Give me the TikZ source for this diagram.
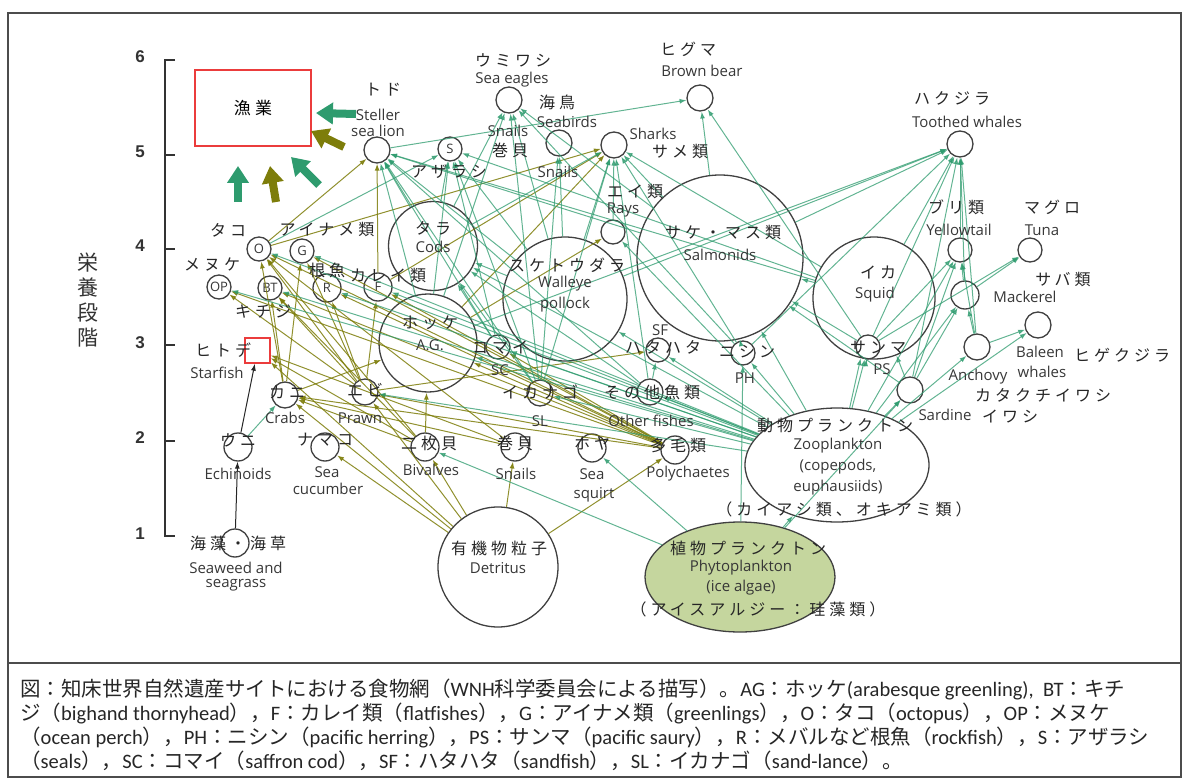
\documentclass[tikz,border=0pt]{standalone}
\usepackage{fontspec}
\setmainfont{Open Sans}
\newfontfamily\jpfont[LetterSpace=25]{Noto Sans CJK JP}
\newfontfamily\capfont{Noto Sans CJK JP}
\newfontfamily\carfont{Carlito}
\newfontfamily\numfont{Liberation Sans}
\usetikzlibrary{arrows,arrows.meta,shapes}

\definecolor{webgreen}{RGB}{46,155,110}
\definecolor{webolive}{RGB}{125,125,10}
\definecolor{rimgray}{RGB}{64,64,64}
\definecolor{boxred}{RGB}{235,60,60}
\definecolor{phyfill}{RGB}{197,214,158}
\definecolor{labgray}{RGB}{55,55,55}
\newcommand{\eng}[1]{{\carfont #1}}

\begin{document}
\begin{tikzpicture}[x=1pt,y=-1pt,
  spc/.style={circle,draw=rimgray,line width=1.3pt,minimum size=26pt,inner sep=0pt,
    font=\fontsize{13}{13}\selectfont,text=labgray},
  jp/.style={font=\jpfont\fontsize{16}{18}\selectfont,text=black!85,inner sep=0pt},
  en/.style={font=\fontsize{15}{16}\selectfont,text=labgray,inner sep=0pt},
  capline/.style={anchor=west,inner sep=0pt,font=\capfont\fontsize{20.5}{24}\selectfont,text=black!85},
  gedge/.style={draw=webgreen,line width=1pt,opacity=.75,-{Latex[length=7pt,width=5pt]}},
  oedge/.style={draw=webolive,line width=1pt,opacity=.85,-{Latex[length=7pt,width=5pt]}},
  kedge/.style={draw=black!85,line width=1pt,-{Latex[length=7pt,width=5pt]}},
  bigarrow/.style={line width=8pt,-{Triangle[length=17pt,width=21pt]}}]

\useasboundingbox (0,0) rectangle (1184,781);

% frame and caption rule
\draw[black!70,line width=1.5pt] (8,13) rectangle (1181,777);
\draw[black!70,line width=1.5pt] (8,663) -- (1181,663);

% trophic level axis
\draw[black!80,line width=1.3pt] (175,60) -- (165,60) -- (165,536) -- (175,536);
\draw[black!80,line width=1.3pt] (165,155) -- (175,155);
\draw[black!80,line width=1.3pt] (165,249) -- (175,249);
\draw[black!80,line width=1.3pt] (165,345) -- (175,345);
\draw[black!80,line width=1.3pt] (165,441) -- (175,441);
\node[font=\numfont\bfseries\fontsize{17}{17}\selectfont,text=black!80] (lv6) at (140,57) {6};
\node[font=\numfont\bfseries\fontsize{17}{17}\selectfont,text=black!80] (lv5) at (140,152) {5};
\node[font=\numfont\bfseries\fontsize{17}{17}\selectfont,text=black!80] (lv4) at (140,246) {4};
\node[font=\numfont\bfseries\fontsize{17}{17}\selectfont,text=black!80] (lv3) at (140,343) {3};
\node[font=\numfont\bfseries\fontsize{17}{17}\selectfont,text=black!80] (lv2) at (140,438) {2};
\node[font=\numfont\bfseries\fontsize{17}{17}\selectfont,text=black!80] (lv1) at (140,534) {1};
\node[font=\capfont\fontsize{21}{25}\selectfont,align=center,text=black!80] (ylab) at (88,300) {栄\\養\\段\\階};

% fisheries and starfish boxes
\node[draw=boxred,line width=1.4pt,minimum width=116pt,minimum height=76pt,inner sep=0pt,
  font=\jpfont\fontsize{17}{18}\selectfont] (fish) at (253,108) {漁業};
\node[draw=boxred,line width=1.4pt,minimum size=25pt,inner sep=0pt] (sfish) at (257.5,350.5) {};

% top predators
\node[spc] (tsl) at (377,150) {};
\node[spc] (se) at (509,100) {};
\node[spc] (sb) at (559,143) {};
\node[spc,minimum size=24pt] (seal) at (450,149) {S};
\node[spc] (sh) at (614,145) {};
\node[spc] (bb) at (700,98) {};
\node[spc] (tw) at (960,144) {};
\node[spc,minimum size=24pt] (ys) at (960,250) {};
\node[spc,minimum size=24pt] (tu) at (1030,250) {};
\node[spc,minimum size=28pt] (mk) at (965,295) {};
\node[spc] (bw) at (1038,325) {};
\node[spc] (an) at (977,347) {};
\node[spc] (sd) at (910,390) {};
\node[spc,minimum size=24pt] (ps) at (868,347) {};

% big fish circles
\node[spc,minimum size=122pt] (sq) at (874,298) {};
\node[spc,minimum size=166pt] (sal) at (720,258) {};
\node[spc,minimum size=124pt] (wp) at (565,299) {};
\node[spc,minimum size=89pt] (cod) at (433,246) {};
\node[spc,minimum size=98pt] (ag) at (428,343) {};
\node[spc,minimum size=24pt] (ray) at (613,232) {};

% demersal fish
\node[spc,minimum size=24pt] (oct) at (259,249) {O};
\node[spc,minimum size=24pt] (grn) at (302,251) {G};
\node[spc,minimum size=24pt] (op) at (219,287) {OP};
\node[spc,minimum size=24pt] (bt) at (270,288) {BT};
\node[spc,minimum size=28pt] (rf) at (327,288) {\raisebox{-6pt}{R}};
\node[spc,minimum size=28pt] (ff) at (378,287) {\raisebox{-6pt}{F}};
\node[spc,minimum size=24pt] (sc) at (498,347) {};
\node[spc] (sl) at (540,393) {};
\node[spc,minimum size=24pt] (sf) at (658,350) {};
\node[spc] (of) at (650,392) {};
\node[spc,minimum size=24pt] (ph) at (743,353) {};

% benthos
\node[spc] (crab) at (285,395) {};
\node[spc] (prawn) at (365,392) {};
\node[spc,minimum size=28pt] (echi) at (238,447) {};
\node[spc,minimum size=28pt] (cuc) at (325,447) {};
\node[spc,minimum size=28pt] (weed) at (235,543) {};
\node[spc,minimum size=28pt] (biv) at (425,447) {};
\node[spc,minimum size=28pt] (snail) at (515,447) {};
\node[spc,minimum size=28pt] (squirt) at (592,448) {};
\node[spc,minimum size=28pt] (poly) at (675,450) {};

% base of the web
\node[spc,minimum size=120pt] (det) at (498,567) {};
\node[ellipse,draw=rimgray,fill=phyfill,line width=1.3pt,minimum width=190pt,minimum height=110pt] (phy) at (740,577) {};
\node[ellipse,draw=rimgray,line width=1.3pt,minimum width=184pt,minimum height=114pt] (zoo) at (837,465) {};

% black links
\draw[kedge] (weed) -- (echi);
\draw[kedge] (echi) -- (sfish);

% olive links
\draw[oedge] (det) -- (biv);
\draw[oedge] (det) -- (snail);
\draw[oedge] (det) -- (poly);
\draw[oedge] (det) -- (cuc);
\draw[oedge] (det) -- (crab);
\draw[oedge] (det) -- (prawn);
\draw[oedge] (det) -- (sfish);
\draw[oedge] (biv) -- (oct);
\draw[oedge] (biv) -- (sfish);
\draw[oedge] (biv) -- (crab);
\draw[oedge] (biv) -- (ag);
\draw[oedge] (biv) -- (bt);
\draw[oedge] (snail) -- (oct);
\draw[oedge] (snail) -- (crab);
\draw[oedge] (snail) -- (sfish);
\draw[oedge] (poly) -- (oct);
\draw[oedge] (poly) -- (bt);
\draw[oedge] (poly) -- (op);
\draw[oedge] (poly) -- (grn);
\draw[oedge] (poly) -- (rf);
\draw[oedge] (poly) -- (ff);
\draw[oedge] (poly) -- (ag);
\draw[oedge] (poly) -- (crab);
\draw[oedge] (poly) -- (prawn);
\draw[oedge] (poly) -- (sc);
\draw[oedge] (crab) -- (oct);
\draw[oedge] (crab) -- (bt);
\draw[oedge] (crab) -- (grn);
\draw[oedge] (crab) -- (ag);
\draw[oedge] (prawn) -- (oct);
\draw[oedge] (prawn) -- (bt);
\draw[oedge] (prawn) -- (op);
\draw[oedge] (prawn) -- (grn);
\draw[oedge] (prawn) -- (rf);
\draw[oedge] (prawn) -- (ff);
\draw[oedge] (prawn) -- (sf);
\draw[oedge] (oct) -- (tsl);
\draw[oedge] (oct) -- (sh);
\draw[oedge] (ff) -- (tsl);
\draw[oedge] (ff) -- (sh);
\draw[oedge] (ag) -- (sh);
\draw[oedge] (ag) -- (ray);

% green links
\draw[gedge] (phy) -- (zoo);
\draw[gedge] (phy) -- (biv);
\draw[gedge] (phy) -- (squirt);
\draw[gedge] (phy) -- (ph);
\draw[gedge] (phy) -- (sd);
\draw[gedge] (echi) -- (crab);
\draw[gedge] (zoo) -- (ph);
\draw[gedge] (zoo) -- (sf);
\draw[gedge] (zoo) -- (of);
\draw[gedge] (zoo) -- (sc);
\draw[gedge] (zoo) -- (sl);
\draw[gedge] (zoo) -- (ag);
\draw[gedge] (zoo) -- (wp);
\draw[gedge] (zoo) -- (sal);
\draw[gedge] (zoo) -- (sq);
\draw[gedge] (zoo) -- (ps);
\draw[gedge] (zoo) -- (sd);
\draw[gedge] (zoo) -- (an);
\draw[gedge] (zoo) -- (bw);
\draw[gedge] (zoo) -- (op);
\draw[gedge] (zoo) -- (bt);
\draw[gedge] (zoo) -- (rf);
\draw[gedge] (zoo) -- (ff);
\draw[gedge] (zoo) -- (grn);
\draw[gedge] (zoo) -- (oct);
\draw[gedge] (zoo) -- (cod);
\draw[gedge] (zoo) -- (prawn);
\draw[gedge] (zoo) -- (ray);
\draw[gedge] (zoo) -- (ys);
\draw[gedge] (zoo) -- (mk);
\draw[gedge] (of) -- (sf);
\draw[gedge] (of) -- (sh);
\draw[gedge] (of) -- (cod);
\draw[gedge] (of) -- (tsl);
\draw[gedge] (sl) -- (cod);
\draw[gedge] (sl) -- (tsl);
\draw[gedge] (sl) -- (se);
\draw[gedge] (sl) -- (sb);
\draw[gedge] (sl) -- (seal);
\draw[gedge] (sl) -- (sh);
\draw[gedge] (sc) -- (cod);
\draw[gedge] (sc) -- (seal);
\draw[gedge] (sc) -- (tsl);
\draw[gedge] (ph) -- (tw);
\draw[gedge] (ph) -- (sh);
\draw[gedge] (ph) -- (sal);
\draw[gedge] (ph) -- (se);
\draw[gedge] (ray) -- (sh);
\draw[gedge] (wp) -- (tsl);
\draw[gedge] (wp) -- (seal);
\draw[gedge] (wp) -- (sb);
\draw[gedge] (wp) -- (se);
\draw[gedge] (wp) -- (sh);
\draw[gedge] (wp) -- (tw);
\draw[gedge] (wp) -- (cod);
\draw[gedge] (cod) -- (tsl);
\draw[gedge] (cod) -- (seal);
\draw[gedge] (cod) -- (se);
\draw[gedge] (cod) -- (sh);
\draw[gedge] (sal) -- (bb);
\draw[gedge] (ps) -- (bb);
\draw[gedge] (sal) -- (tw);
\draw[gedge] (sal) -- (sh);
\draw[gedge] (sal) -- (tsl);
\draw[gedge] (sal) -- (se);
\draw[gedge] (sq) -- (tw);
\draw[gedge] (sq) -- (sh);
\draw[gedge] (sq) -- (tsl);
\draw[gedge] (sq) -- (seal);
\draw[gedge] (sq) -- (sal);
\draw[gedge] (ps) -- (sq);
\draw[gedge] (ps) -- (sal);
\draw[gedge] (ps) -- (ys);
\draw[gedge] (ps) -- (tu);
\draw[gedge] (ps) -- (tw);
\draw[gedge] (sd) -- (sq);
\draw[gedge] (sd) -- (ys);
\draw[gedge] (sd) -- (mk);
\draw[gedge] (sd) -- (tw);
\draw[gedge] (sd) -- (sal);
\draw[gedge] (an) -- (ys);
\draw[gedge] (an) -- (mk);
\draw[gedge] (an) -- (bw);
\draw[gedge] (an) -- (tw);
\draw[gedge] (mk) -- (tu);
\draw[gedge] (mk) -- (ys);
\draw[gedge] (mk) -- (tw);
\draw[gedge] (ys) -- (tw);
\draw[gedge] (ag) -- (seal);
\draw[gedge] (ag) -- (tsl);
\draw[gedge] (ag) -- (se);
\draw[gedge] (ag) -- (tw);
\draw[gedge] (tsl) -- (bb);
\draw[gedge] (oct) -- (seal);

% catches taken by fisheries
\coordinate (c1a) at (356,114); \coordinate (c1b) at (316,113);
\coordinate (c2a) at (344,147); \coordinate (c2b) at (311,131);
\coordinate (c3a) at (319,185); \coordinate (c3b) at (291,157);
\coordinate (c4a) at (276,202); \coordinate (c4b) at (270,166);
\coordinate (c5a) at (238,202); \coordinate (c5b) at (238,166);
\draw[bigarrow,webgreen] (c1a) -- (c1b);
\draw[bigarrow,webolive] (c2a) -- (c2b);
\draw[bigarrow,webgreen] (c3a) -- (c3b);
\draw[bigarrow,webolive] (c4a) -- (c4b);
\draw[bigarrow,webgreen] (c5a) -- (c5b);

% labels
\node[jp] (tsljp) at (383,90) {トド};
\node[en] (tslen1) at (378,115) {Steller};
\node[en] (tslen2) at (378,131) {sea lion};
\node[jp] (sejp) at (513,60) {ウミワシ};
\node[en] (seen) at (512,80) {Sea eagles};
\node[jp] (sbjp) at (557,102) {海鳥};
\node[en] (sben) at (567,122) {Seabirds};
\node[en] (xsnen) at (508,131) {Snails};
\node[jp] (xsnjp) at (510,150) {巻貝};
\node[en] (xsnen2) at (558,172) {Snails};
\node[jp] (sealjp) at (449,172) {アザラシ};
\node[en] (shen) at (653,134) {Sharks};
\node[jp] (shjp) at (680,152) {サメ類};
\node[jp] (bbjp) at (688,49) {ヒグマ};
\node[en] (bben) at (702,71) {Brown bear};
\node[jp] (rayjp) at (635,192) {エイ類};
\node[en] (rayen) at (623,210) {Rays};
\node[jp] (codjp) at (433,228) {タラ};
\node[en] (coden) at (433,247) {Cods};
\node[jp] (wpjp) at (567,265) {スケトウダラ};
\node[en] (wpen1) at (565,284) {Walleye};
\node[en] (wpen2) at (565,305) {pollock};
\node[jp] (saljp) at (723,233) {サケ・マス類};
\node[en] (salen) at (720,255) {Salmonids};
\node[jp] (twjp) at (952,98) {ハクジラ};
\node[en] (twen) at (967,122) {Toothed whales};
\node[jp] (ysjp) at (956,207) {ブリ類};
\node[en] (ysen) at (959,230) {Yellowtail};
\node[jp] (tujp) at (1052,207) {マグロ};
\node[en] (tuen) at (1042,230) {Tuna};
\node[jp] (mkjp) at (1063,280) {サバ類};
\node[en] (mken) at (1025,297) {Mackerel};
\node[jp] (sqjp) at (878,272) {イカ};
\node[en] (sqen) at (875,295) {Squid};
\node[jp] (psjp) at (878,348) {サンマ};
\node[en] (psen) at (882,369) {PS};
\node[en] (sden) at (945,415) {Sardine};
\node[jp] (sdjp) at (1010,417) {イワシ};
\node[en] (anen) at (978,377) {Anchovy};
\node[jp] (anjp) at (1043,395) {カタクチイワシ};
\node[en] (bwen1) at (1040,352) {Baleen};
\node[en] (bwen2) at (1042,372) {whales};
\node[jp] (bwjp) at (1122,355) {ヒゲクジラ};
\node[jp] (octjp) at (228,230) {タコ};
\node[jp] (grnjp) at (327,230) {アイナメ類};
\node[jp] (opjp) at (212,265) {メヌケ};
\node[jp] (btjp) at (263,312) {キチジ};
\node[jp] (rfjp) at (327,270) {根魚};
\node[jp] (ffjp) at (388,276) {カレイ類};
\node[jp] (agjp) at (430,323) {ホッケ};
\node[en] (agen) at (430,345) {A.G.};
\node[jp] (scjp) at (500,348) {コマイ};
\node[en] (scen) at (500,370) {SC};
\node[jp] (sljp) at (540,392) {イカナゴ};
\node[en] (slen) at (540,421) {SL};
\node[en] (sfen) at (660,330) {SF};
\node[jp] (sfjp) at (663,347) {ハタハタ};
\node[jp] (ofjp) at (652,392) {その他魚類};
\node[en] (ofen) at (651,421) {Other fishes};
\node[jp] (phjp) at (747,352) {ニシン};
\node[en] (phen) at (745,378) {PH};
\node[jp] (sfishjp) at (223,350) {ヒトデ};
\node[en] (sfishen) at (217,373) {Starfish};
\node[jp] (crabjp) at (287,392) {カニ};
\node[en] (craben) at (285,418) {Crabs};
\node[jp] (prawnjp) at (365,390) {エビ};
\node[en] (prawnen) at (360,418) {Prawn};
\node[jp] (echijp) at (238,440) {ウニ};
\node[en] (echien) at (238,474) {Echinoids};
\node[jp] (cucjp) at (325,440) {ナマコ};
\node[en] (cucen1) at (327,472) {Sea};
\node[en] (cucen2) at (328,489) {cucumber};
\node[jp] (weedjp) at (238,543) {海藻・海草};
\node[en] (weeden1) at (236,568) {Seaweed and};
\node[en] (weeden2) at (236,585) {seagrass};
\node[jp] (bivjp) at (429,443) {二枚貝};
\node[en] (biven) at (431,470) {Bivalves};
\node[jp] (snailjp) at (515,443) {巻貝};
\node[en] (snailen) at (516,474) {Snails};
\node[jp] (squirtjp) at (592,443) {ホヤ};
\node[en] (squirten1) at (592,474) {Sea};
\node[en] (squirten2) at (594,495) {squirt};
\node[jp] (polyjp) at (678,445) {多毛類};
\node[en] (polyen) at (688,474) {Polychaetes};
\node[jp] (detjp) at (499,548) {有機物粒子};
\node[en] (deten) at (498,568) {Detritus};
\node[jp] (phyjp) at (748,548) {植物プランクトン};
\node[en] (phyen1) at (741,568) {Phytoplankton};
\node[en] (phyen2) at (741,588) {(ice algae)};
\node[jp] (phyjp2) at (758,609) {（アイスアルジー：珪藻類）};
\node[jp] (zoojp) at (835,425) {動物プランクトン};
\node[en] (zooen1) at (838,446) {Zooplankton};
\node[en] (zooen2) at (838,467) {(copepods,};
\node[en] (zooen3) at (838,488) {euphausiids)};
\node[jp] (zoojp2) at (844,509) {（カイアシ類、オキアミ類）};

% caption
\node[capline] (cap1) at (20,689) {図：知床世界自然遺産サイトにおける食物網（\eng{WNH}科学委員会による描写）。\eng{AG}：ホッケ\eng{(arabesque greenling),\ \ BT}：キチ};
\node[capline] (cap2) at (20,713) {ジ（\eng{bighand thornyhead}），\eng{F}：カレイ類（\eng{flatfishes}），\eng{G}：アイナメ類（\eng{greenlings}），\eng{O}：タコ（\eng{octopus}），\eng{OP}：メヌケ};
\node[capline] (cap3) at (20,737) {（\eng{ocean perch}），\eng{PH}：ニシン（\eng{pacific herring}），\eng{PS}：サンマ（\eng{pacific saury}），\eng{R}：メバルなど根魚（\eng{rockfish}），\eng{S}：アザラシ};
\node[capline] (cap4) at (20,761) {（\eng{seals}），\eng{SC}：コマイ（\eng{saffron cod}），\eng{SF}：ハタハタ（\eng{sandfish}），\eng{SL}：イカナゴ（\eng{sand-lance}）。};
\end{tikzpicture}
\end{document}
